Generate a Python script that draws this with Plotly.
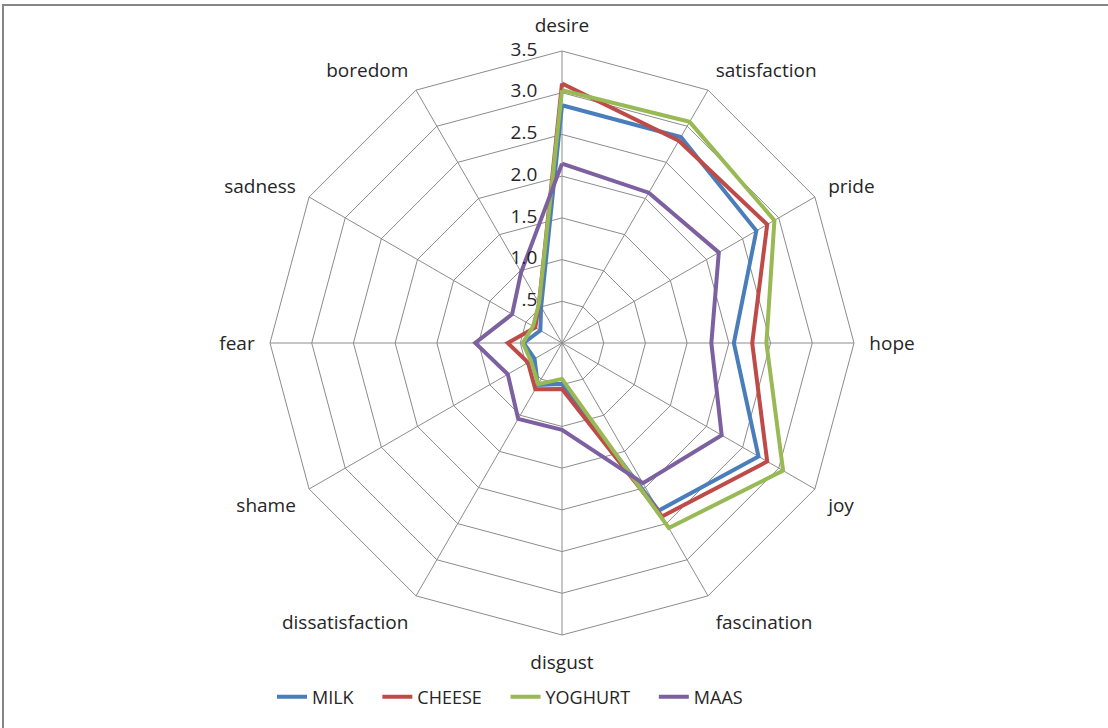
import plotly.graph_objects as go

# Emotion categories, clockwise from the top
categories = ["desire", "satisfaction", "pride", "hope", "joy", "fascination",
              "disgust", "dissatisfaction", "shame", "fear", "sadness", "boredom"]

milk = [2.85, 2.85, 2.69, 2.06, 2.72, 2.32, 0.49, 0.58, 0.38, 0.46, 0.30, 0.50]
cheese = [3.11, 2.80, 2.84, 2.28, 2.84, 2.40, 0.55, 0.64, 0.47, 0.65, 0.37, 0.55]
yoghurt = [3.03, 3.06, 2.94, 2.45, 3.06, 2.56, 0.43, 0.57, 0.43, 0.47, 0.40, 0.55]
maas = [2.15, 2.08, 2.17, 1.79, 2.21, 1.94, 1.04, 1.05, 0.75, 1.04, 0.69, 0.98]

radial_ticks = [0, 0.5, 1.0, 1.5, 2.0, 2.5, 3.0, 3.5]
radial_tick_labels = [".0", ".5", "1.0", "1.5", "2.0", "2.5", "3.0", "3.5"]

series = [
    ("MILK", milk, "#4A7EBB"),
    ("CHEESE", cheese, "#BE4B48"),
    ("YOGHURT", yoghurt, "#98B954"),
    ("MAAS", maas, "#7D60A0"),
]

W, H = 1108, 728
cx, cy, R = 562, 343, 292  # centre and outer radius of the radar, in px
NBSP = "\u00a0"

font_family = "Open Sans, Noto Sans, sans-serif"
grid_col = "#8c8c8c"
text_col = "#262626"

fig = go.Figure()
for name, vals, color in series:
    fig.add_trace(go.Scatterpolar(
        r=vals + vals[:1],
        theta=categories + categories[:1],
        mode="lines",
        name=name + NBSP * 4,  # extra room between legend entries
        line=dict(color=color, width=4),
    ))

# value scale written to the left of the top spoke, right-aligned
fig.add_trace(go.Scatterpolar(
    r=radial_ticks,
    theta=[categories[0]] * len(radial_ticks),
    mode="text",
    text=[t + NBSP * 5 for t in radial_tick_labels],
    textposition="middle left",
    textfont=dict(size=19, color=text_col, family=font_family),
    showlegend=False,
    hoverinfo="skip",
))

fig.update_layout(
    width=W, height=H,
    margin=dict(l=0, r=0, t=0, b=0),
    paper_bgcolor="white",
    plot_bgcolor="white",
    font=dict(family=font_family, size=18, color=text_col),
    polar=dict(
        domain=dict(x=[(cx - R) / W, (cx + R) / W],
                    y=[(H - cy - R) / H, (H - cy + R) / H]),
        bgcolor="white",
        gridshape="linear",
        angularaxis=dict(
            direction="clockwise",
            rotation=90,
            categoryorder="array",
            categoryarray=categories,
            showline=True,
            linecolor=grid_col,
            linewidth=1,
            gridcolor=grid_col,
            gridwidth=1,
            # invisible ticks keep the category names clear of the outer ring
            ticks="outside",
            ticklen=11,
            tickcolor="rgba(0,0,0,0)",
            tickfont=dict(size=19, color=text_col),
        ),
        radialaxis=dict(
            range=[0, 3.5],
            angle=90,
            tickvals=radial_ticks,
            showticklabels=False,
            showline=False,
            gridcolor=grid_col,
            gridwidth=1,
            ticks="",
        ),
    ),
    legend=dict(
        orientation="h",
        x=272 / W, xanchor="left",
        y=1 - 697 / H, yanchor="middle",
        font=dict(size=18, color=text_col),
        bgcolor="rgba(0,0,0,0)",
    ),
    shapes=[dict(
        type="rect", xref="paper", yref="paper",
        x0=3 / W, x1=1.02, y0=-0.02, y1=1 - 5 / H,
        line=dict(color="#868686", width=2),
        fillcolor="rgba(0,0,0,0)",
        layer="below",
    )],
)

fig.write_html("out.html")
